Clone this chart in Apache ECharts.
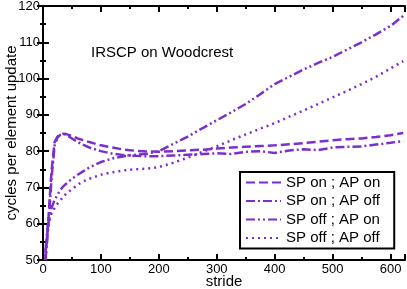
<!DOCTYPE html>
<html><head><meta charset="utf-8">
<script src="https://cdn.jsdelivr.net/npm/echarts@6/dist/echarts.min.js"></script>
<style>html,body{margin:0;padding:0;background:#fff}#c{width:407px;height:289px}</style>
</head><body><div id="c"></div>
<script>
var strides = [4,6,8,10,12,15,20,25,30,35,40,50,60,70,80,100,120,140,160,180,200,225,250,275,300,325,350,375,400,425,450,475,500,525,550,575,600,622];
var spOnApOn  = [50,54,58,63,68,75,82.5,84,84.5,84.8,84.7,84.2,83.5,83,82.5,81.6,81,80.4,80.1,79.9,79.8,80,80.2,80.4,80.7,81,81.2,81.4,81.6,81.9,82.2,82.6,83,83.3,83.5,83.9,84.4,85];
var spOnApOff = [50,53,57,61,66,73,81.5,83.8,84.5,84.8,84.5,83.5,82.5,81.7,81,80,79.3,78.9,78.7,78.6,78.6,78.8,79,79.2,79.4,79.2,79.8,80,79.5,80.2,80.5,80.3,81,81.2,81.3,81.8,82.3,82.8];
var spOffApOn = [52,56,59,61,62.5,64.5,66.5,68,69.3,70.3,71,72.4,73.5,74.5,75.5,77,78,78.6,79,79.3,80,82,84,86.3,88.5,90.7,93,95.7,98.5,100.5,102.5,104.3,106,108,110,112.2,114.5,117.3];
var spOffApOff = [51,55,58,60,61.5,63,64.3,65.5,66.5,67.4,68.3,69.5,70.8,71.7,72.4,73.5,74.2,74.7,75,75.2,75.6,76.8,78.2,79.8,81.3,83,84.6,86.2,87.7,89.5,91.2,93,94.8,96.6,98.5,100.5,102.8,104.8];
var names = ['SP on ; AP on','SP on ; AP off','SP off ; AP on','SP off ; AP off'];
var dashes = [[9,4],[9,3,2,3],[9,3,2,3,2,3],[2,4]];
var values = [spOnApOn, spOnApOff, spOffApOn, spOffApOff];
var color = '#7b2fce';
function pairs(v){return strides.map(function(s,i){return [s,v[i]];});}
var font = 'Liberation Sans, Arial, sans-serif';
var axisCommon = {
  axisLine:{lineStyle:{color:'#000',width:2}},
  axisTick:{inside:true,length:6,lineStyle:{color:'#000',width:2}},
  minorTick:{show:true,splitNumber:2,length:3,lineStyle:{color:'#000',width:2}},
  splitLine:{show:false}
};
var chart = echarts.init(document.getElementById('c'));
chart.setOption({
  animation:false,
  grid:{left:43,right:2,top:6,bottom:29,containLabel:false,outerBoundsMode:'none'},
  title:{text:'IRSCP on Woodcrest',left:86,top:40,textStyle:{fontFamily:font,fontSize:15,fontWeight:'normal',color:'#000'}},
  legend:{
    orient:'vertical',left:240,top:172,
    data:names,
    backgroundColor:'#fff',borderColor:'#000',borderWidth:2,borderRadius:0,
    padding:[3,14,3,5],itemGap:3.5,itemWidth:35,itemHeight:14,
    itemStyle:{opacity:0},
    textStyle:{fontFamily:font,fontSize:15,color:'#000'}
  },
  xAxis:[
    Object.assign({type:'value',min:0,max:625,interval:100,position:'bottom',
      name:'stride',nameLocation:'middle',nameGap:14,nameMoveOverlap:false,
      nameTextStyle:{fontFamily:font,fontSize:15,color:'#000'},
      axisLabel:{fontFamily:font,fontSize:13,color:'#000',margin:3,
        formatter:function(v){return v%100===0?v:'';}}},axisCommon),
    Object.assign({type:'value',min:0,max:625,interval:100,position:'top',
      axisLabel:{show:false}},axisCommon)
  ],
  yAxis:[
    Object.assign({type:'value',min:50,max:120,interval:10,position:'left',
      name:'cycles per element update',nameLocation:'middle',nameGap:24,nameMoveOverlap:false,
      nameTextStyle:{fontFamily:font,fontSize:15,color:'#000'},
      axisLabel:{fontFamily:font,fontSize:13,color:'#000',margin:3}},axisCommon),
    Object.assign({type:'value',min:50,max:120,interval:10,position:'right',
      axisLabel:{show:false}},axisCommon)
  ],
  series: values.map(function(v,i){
    return {name:names[i],type:'line',data:pairs(v),showSymbol:false,symbol:'none',
      xAxisIndex:0,yAxisIndex:0,clip:true,
      lineStyle:{color:color,width:2.5,type:dashes[i]},itemStyle:{color:color}};
  })
});
</script></body></html>
